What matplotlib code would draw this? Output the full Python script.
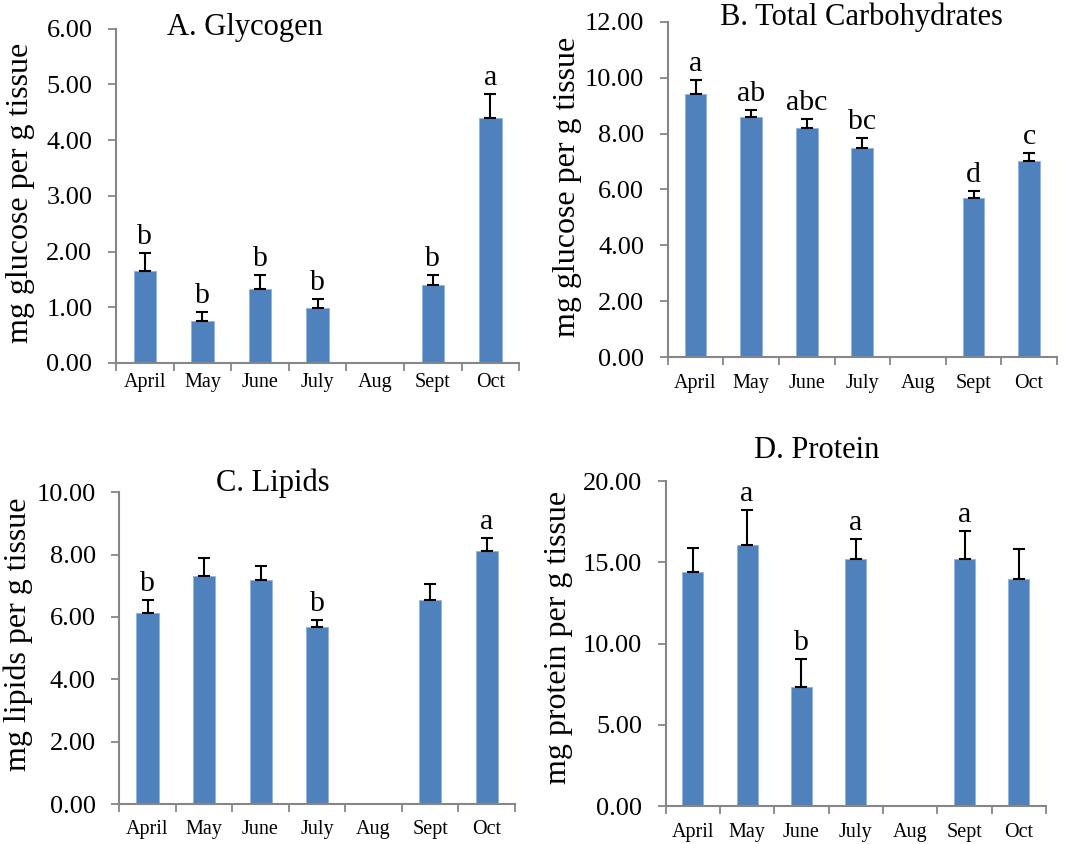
import numpy as np
import matplotlib
matplotlib.use("Agg")
import matplotlib.pyplot as plt

plt.rcParams['font.family'] = ['Liberation Serif', 'DejaVu Serif']

months = ['April', 'May', 'June', 'July', 'Aug', 'Sept', 'Oct']

# 各月平均值與標準誤 (Aug 無資料)
glycogen_mean = [1.65, 0.76, 1.32, 0.98, np.nan, 1.39, 4.39]
glycogen_se = [0.33, 0.15, 0.26, 0.17, np.nan, 0.18, 0.43]
glycogen_sig = ['b', 'b', 'b', 'b', '', 'b', 'a']

carb_mean = [9.43, 8.60, 8.20, 7.49, np.nan, 5.70, 7.02]
carb_se = [0.50, 0.26, 0.34, 0.35, np.nan, 0.25, 0.30]
carb_sig = ['a', 'ab', 'abc', 'bc', '', 'd', 'c']

lipid_mean = [6.14, 7.32, 7.19, 5.68, np.nan, 6.53, 8.12]
lipid_se = [0.39, 0.57, 0.44, 0.21, np.nan, 0.54, 0.41]
lipid_sig = ['b', '', '', 'b', '', '', 'a']

protein_mean = [14.41, 16.06, 7.33, 15.19, np.nan, 15.19, 13.98]
protein_se = [1.48, 2.15, 1.70, 1.22, np.nan, 1.75, 1.87]
protein_sig = ['', 'a', 'b', 'a', '', 'a', '']

BAR_COLOR = '#4F81BD'
AXIS_COLOR = '#868686'

fig = plt.figure(figsize=(10.84, 8.44), dpi=100)


def draw_panel(rect, mean, se, sig, ymax, ystep, title, title_xy, ylabel,
               ylabel_xy, xpad):
    ax = fig.add_axes(rect)
    x = np.arange(len(months))
    mean = np.asarray(mean, dtype=float)
    se = np.asarray(se, dtype=float)
    ok = ~np.isnan(mean)

    ax.bar(x[ok], mean[ok], width=0.39, color=BAR_COLOR,
           edgecolor='#8EB4E3', linewidth=0.6, zorder=2)
    ax.errorbar(x[ok], mean[ok], yerr=[np.zeros(ok.sum()), se[ok]],
                fmt='none', ecolor='black', elinewidth=1.5, capsize=4.5,
                capthick=1.5, zorder=3)

    # 顯著性字母
    for xi, m, s, lab in zip(x, mean, se, sig):
        if lab and not np.isnan(m):
            ax.annotate(lab, (xi, m + s), xytext=(0, 6.5),
                        textcoords='offset points', ha='center',
                        va='baseline', fontsize=21.5)

    ax.set_xlim(-0.5, len(months) - 0.5)
    ax.set_ylim(0, ymax)
    ax.set_yticks(np.arange(0, ymax + ystep / 2, ystep))
    ax.yaxis.set_major_formatter(matplotlib.ticker.FormatStrFormatter('%.2f'))

    # 刻度在類別之間，標籤在類別中央
    ax.set_xticks(np.arange(-0.5, len(months), 1.0))
    ax.set_xticklabels([])
    ax.set_xticks(x, minor=True)
    ax.set_xticklabels(months, minor=True, fontsize=14.5)
    ax.tick_params(axis='x', which='major', direction='out', length=5.5,
                   width=1.3, color=AXIS_COLOR)
    ax.tick_params(axis='x', which='minor', length=0, pad=xpad)
    ax.tick_params(axis='y', direction='out', length=5.5, width=1.3,
                   color=AXIS_COLOR, labelsize=19, pad=11.5)

    for side in ('top', 'right'):
        ax.spines[side].set_visible(False)
    for side in ('left', 'bottom'):
        ax.spines[side].set_color(AXIS_COLOR)
        ax.spines[side].set_linewidth(1.5)

    ax.text(title_xy[0], title_xy[1], title, transform=ax.transAxes,
            ha='center', va='center', fontsize=22)
    ax.set_ylabel(ylabel, fontsize=23)
    ax.yaxis.set_label_coords(*ylabel_xy)
    return ax


draw_panel([0.107, 0.570, 0.372, 0.396], glycogen_mean, glycogen_se,
           glycogen_sig, 6, 1, 'A. Glycogen', (0.32, 1.003),
           'mg glucose per g tissue', (-0.200, 0.509), 7)
draw_panel([0.616, 0.577, 0.359, 0.397], carb_mean, carb_se, carb_sig,
           12, 2, 'B. Total Carbohydrates', (0.499, 1.014),
           'mg glucose per g tissue', (-0.221, 0.507), 12)
draw_panel([0.110, 0.047, 0.365, 0.370], lipid_mean, lipid_se, lipid_sig,
           10, 2, 'C. Lipids', (0.388, 1.028),
           'mg lipids per g tissue', (-0.217, 0.544), 11.5)
draw_panel([0.614, 0.045, 0.351, 0.385], protein_mean, protein_se,
           protein_sig, 20, 5, 'D. Protein', (0.397, 1.095),
           'mg protein per g tissue', (-0.244, 0.52), 12)

fig.savefig('out.png', dpi=100)
